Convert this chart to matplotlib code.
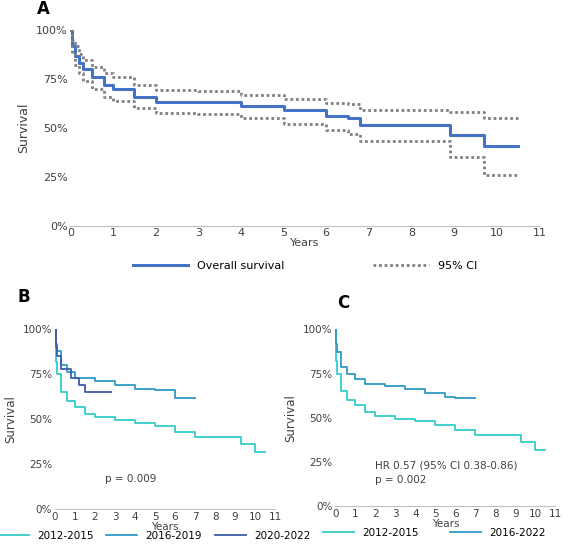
import matplotlib
matplotlib.use("Agg")
import matplotlib.pyplot as plt
from matplotlib.ticker import FuncFormatter

os_t = [0, 0.05, 0.1, 0.2, 0.3, 0.5, 0.8, 1.0, 1.5, 2.0, 3.0, 4.0, 5.0, 6.0, 6.5, 6.8, 8.9, 9.7, 10.5]
os_s = [100, 92, 87, 83, 80, 76, 72, 70, 66, 63.5, 63, 61, 59, 56, 55, 51.5, 46.5, 40.5, 40.5]
up_s = [100, 95, 92, 88, 85, 81, 78, 76, 72, 69.5, 69, 67, 65, 62.5, 62, 59, 58, 55, 55]
lo_s = [100, 88, 82, 78, 74, 70, 66, 64, 60, 57.5, 57, 55, 52, 49, 47, 43.5, 35, 26, 26]

b1_t = [0, 0.05, 0.1, 0.3, 0.6, 1.0, 1.5, 2.0, 3.0, 4.0, 5.0, 6.0, 7.0, 9.3, 10.0, 10.5]
b1_s = [100, 82, 75, 65, 60, 57, 53, 51, 49.5, 48, 46, 43, 40, 36, 31.5, 31.5]
b2_t = [0, 0.05, 0.1, 0.3, 0.6, 1.0, 2.0, 3.0, 4.0, 5.0, 6.0, 7.0]
b2_s = [100, 92, 88, 80, 76, 73, 71, 69, 67, 66, 62, 62]
b3_t = [0, 0.05, 0.1, 0.3, 0.8, 1.2, 1.5, 2.8]
b3_s = [100, 90, 85, 78, 73, 69, 65, 65]
c2_t = [0, 0.05, 0.1, 0.3, 0.6, 1.0, 1.5, 2.5, 3.5, 4.5, 5.5, 6.0, 7.0]
c2_s = [100, 92, 87, 79, 75, 72, 69, 68, 66, 64, 62, 61, 61]

C1, C2, C3 = "#33CCCC", "#2E9AC4", "#3D5DA8"
pct = FuncFormatter(lambda v, p: f"{int(v)}%")

fig = plt.figure(figsize=(5.72, 5.5), dpi=100)

def style(ax, fs=8):
    ax.set_xlim(0, 11); ax.set_ylim(0, 100)
    ax.set_xticks(range(12)); ax.set_yticks([0, 25, 50, 75, 100])
    ax.yaxis.set_major_formatter(pct)
    for s in ["top", "right", "left"]:
        ax.spines[s].set_visible(False)
    ax.spines["bottom"].set_color("#BFBFBF")
    ax.tick_params(length=0, labelsize=fs, colors="#404040", pad=2)
    ax.set_xlabel("Years", fontsize=fs, color="#404040", labelpad=0)
    ax.set_ylabel("Survival", fontsize=fs + 1, color="#404040")

axA = fig.add_axes([0.123, 0.59, 0.82, 0.355])
style(axA)
axA.step(os_t, os_s, where="post", color="#4472C4", lw=2.2, label="Overall survival")
axA.step(os_t, up_s, where="post", color="#808080", lw=2, ls=(0, (1, 1)), label="95% CI")
axA.step(os_t, lo_s, where="post", color="#808080", lw=2, ls=(0, (1, 1)))
axA.legend(loc="upper center", bbox_to_anchor=(0.5, -0.13), ncol=2, frameon=False,
           fontsize=8, handlelength=5, columnspacing=8)
fig.text(0.065, 0.975, "A", fontsize=12, fontweight="bold")

axB = fig.add_axes([0.096, 0.075, 0.385, 0.326])
style(axB, 7.5)
axB.step(b1_t, b1_s, where="post", color=C1, lw=1.3, label="2012-2015")
axB.step(b2_t, b2_s, where="post", color=C2, lw=1.3, label="2016-2019")
axB.step(b3_t, b3_s, where="post", color=C3, lw=1.3, label="2020-2022")
axB.text(2.5, 15, "p = 0.009", fontsize=7.5, color="#404040")
axB.legend(loc="upper center", bbox_to_anchor=(0.45, -0.1), ncol=3, frameon=False,
           fontsize=7.5, handlelength=3, columnspacing=1.2, borderaxespad=0)
fig.text(0.03, 0.45, "B", fontsize=12, fontweight="bold")

axC = fig.add_axes([0.586, 0.08, 0.385, 0.321])
style(axC, 7.5)
axC.step(b1_t, b1_s, where="post", color=C1, lw=1.3, label="2012-2015")
axC.step(c2_t, c2_s, where="post", color=C2, lw=1.3, label="2016-2022")
axC.text(2.0, 21, "HR 0.57 (95% CI 0.38-0.86)", fontsize=7.5, color="#404040")
axC.text(2.0, 13, "p = 0.002", fontsize=7.5, color="#404040")
axC.legend(loc="upper center", bbox_to_anchor=(0.45, -0.1), ncol=2, frameon=False,
           fontsize=7.5, handlelength=3, columnspacing=3, borderaxespad=0)
fig.text(0.59, 0.44, "C", fontsize=12, fontweight="bold")

fig.savefig("out.png", dpi=100)
